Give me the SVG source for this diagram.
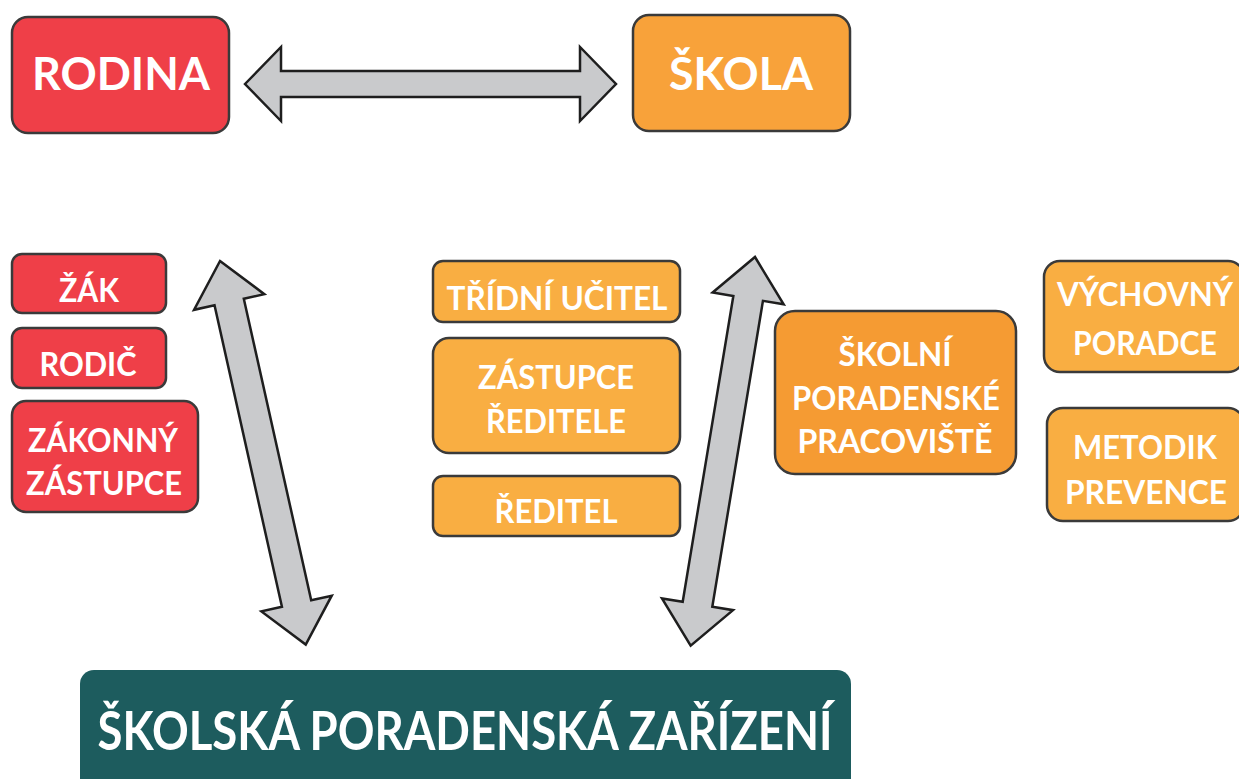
<svg xmlns="http://www.w3.org/2000/svg" width="1239" height="779" viewBox="0 0 1239 779">
<defs>
<style>
.red{fill:#EF3F48;stroke:#3a3a3a;stroke-width:2.5}
.org{fill:#F9AE42;stroke:#3a3a3a;stroke-width:2.5}
.org2{fill:#F8A23A;stroke:#3a3a3a;stroke-width:2.5}
.org3{fill:#F59B33;stroke:#3a3a3a;stroke-width:2.5}
.teal{fill:#1D5C5E}
.arr{fill:#C9CACC;stroke:#1e1e1e;stroke-width:2.5;stroke-linejoin:miter}
text{font-family:Lato,"Open Sans","Liberation Sans",sans-serif;font-weight:bold;fill:#fff;text-anchor:middle}
.t44{font-size:46px}
.t30{font-size:32px}
.t50{font-size:53px}
</style>
</defs>
<rect width="1239" height="779" fill="#fff"/>
<g id="connectors">
<polygon class="arr" transform="translate(245,84) rotate(-90)" points="0,0 37,36 13,36 13,335 37,335 0,371 -37,335 -13,335 -13,36 -37,36"/>
<polygon class="arr" transform="translate(220,261) rotate(-12.6)" points="0,0 36,42 15,42 15,351 36,351 0,393 -36,351 -15,351 -15,42 -36,42"/>
<polygon class="arr" transform="translate(755,257) rotate(9.4)" points="0,0 36,42 15,42 15,352 36,352 0,394 -36,352 -15,352 -15,42 -36,42"/>
</g>
<g id="rodina"><rect class="red" x="12" y="17" width="217" height="116" rx="16"/><text class="t44" x="121" y="90" textLength="178" lengthAdjust="spacingAndGlyphs">RODINA</text></g>
<g id="skola"><rect class="org2" x="633" y="15" width="217" height="116" rx="16"/><text class="t44" x="741" y="90" textLength="144" lengthAdjust="spacingAndGlyphs">ŠKOLA</text></g>
<g id="zak"><rect class="red" x="12" y="254" width="154" height="59" rx="10"/><text class="t30" x="89" y="302" textLength="60" lengthAdjust="spacingAndGlyphs">ŽÁK</text></g>
<g id="rodic"><rect class="red" x="12" y="328" width="154" height="60" rx="10"/><text class="t30" x="88" y="376" textLength="97" lengthAdjust="spacingAndGlyphs">RODIČ</text></g>
<g id="zakonny"><rect class="red" x="12" y="401" width="186" height="111" rx="14"/><text class="t30" x="103" y="452" textLength="150" lengthAdjust="spacingAndGlyphs">ZÁKONNÝ</text><text class="t30" x="104" y="495" textLength="156" lengthAdjust="spacingAndGlyphs">ZÁSTUPCE</text></g>
<g id="tridni"><rect class="org" x="433" y="261" width="247" height="61" rx="10"/><text class="t30" x="557" y="310" textLength="221" lengthAdjust="spacingAndGlyphs">TŘÍDNÍ UČITEL</text></g>
<g id="zastupce"><rect class="org" x="433" y="338" width="247" height="115" rx="16"/><text class="t30" x="556" y="389" textLength="156" lengthAdjust="spacingAndGlyphs">ZÁSTUPCE</text><text class="t30" x="556" y="433" textLength="140" lengthAdjust="spacingAndGlyphs">ŘEDITELE</text></g>
<g id="reditel"><rect class="org" x="433" y="476" width="247" height="60" rx="10"/><text class="t30" x="556" y="523" textLength="123" lengthAdjust="spacingAndGlyphs">ŘEDITEL</text></g>
<g id="spp"><rect class="org3" x="775" y="311" width="241" height="163" rx="20"/><text class="t30" x="895" y="366" textLength="113" lengthAdjust="spacingAndGlyphs">ŠKOLNÍ</text><text class="t30" x="896" y="410" textLength="208" lengthAdjust="spacingAndGlyphs">PORADENSKÉ</text><text class="t30" x="895" y="453" textLength="195" lengthAdjust="spacingAndGlyphs">PRACOVIŠTĚ</text></g>
<g id="vychovny"><rect class="org" x="1044" y="261" width="200" height="111" rx="16"/><text class="t30" x="1145" y="306" textLength="176" lengthAdjust="spacingAndGlyphs">VÝCHOVNÝ</text><text class="t30" x="1145" y="355" textLength="144" lengthAdjust="spacingAndGlyphs">PORADCE</text></g>
<g id="metodik"><rect class="org" x="1047" y="408" width="197" height="113" rx="16"/><text class="t30" x="1145" y="459" textLength="144" lengthAdjust="spacingAndGlyphs">METODIK</text><text class="t30" x="1146" y="504" textLength="162" lengthAdjust="spacingAndGlyphs">PREVENCE</text></g>
<g id="spz"><rect class="teal" x="80" y="670" width="771" height="130" rx="14"/><text class="t50" x="465" y="750" textLength="735" lengthAdjust="spacingAndGlyphs">ŠKOLSKÁ PORADENSKÁ ZAŘÍZENÍ</text></g>
</svg>
